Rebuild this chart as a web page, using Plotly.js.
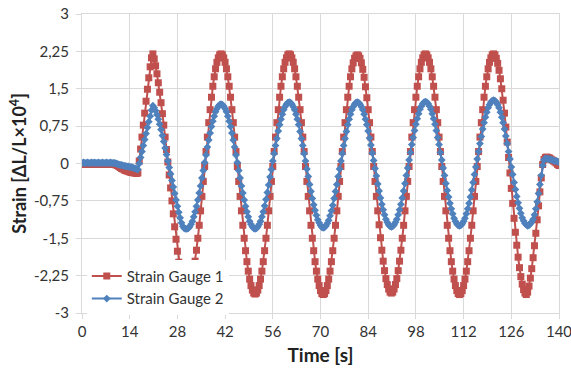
<!DOCTYPE html>
<html>
<head>
<meta charset="utf-8">
<script src="https://cdn.plot.ly/plotly-3.0.1.min.js"></script>
<style>
html,body{margin:0;padding:0;background:#fff;}
#chart{width:571px;height:372px;}
</style>
</head>
<body>
<div id="chart"></div>
<script>
// Sampling: one reading every 0.4 s starting at t = 0 s
const timeStart = 0;
const timeStep = 0.4;

// Strain Gauge 1 readings [ΔL/L×10^4]
const gauge1 = [
  -0.01,-0.02,-0.02,-0.01,-0.02,-0.02,-0.02,-0.01,-0.02,-0.02,-0.01,-0.02,-0.02,-0.02,-0.01,-0.02,-0.02,-0.01,-0.02,-0.02,-0.02,-0.01,-0.02,-0.02,
  -0.02,-0.03,-0.04,-0.06,-0.08,-0.10,-0.11,-0.13,-0.14,-0.15,-0.16,-0.17,-0.18,-0.18,-0.19,-0.19,-0.20,-0.19,
  0.05,0.29,0.53,0.77,1.01,1.25,1.49,1.72,1.94,2.12,2.20,
  2.10,1.96,1.80,1.62,1.43,1.22,1.00,0.77,0.53,0.28,0.03,-0.23,-0.49,-0.75,-1.01,-1.27,-1.52,-1.76,-1.98,-2.18,-2.35,-2.47,-2.55,-2.59,-2.60,
  -2.58,-2.52,-2.43,-2.31,-2.15,-1.96,-1.74,-1.50,-1.24,-0.95,-0.66,-0.36,-0.06,0.24,0.53,0.82,1.08,1.33,1.55,1.74,1.90,2.03,2.12,2.18,2.20,
  2.18,2.12,2.03,1.90,1.74,1.55,1.33,1.08,0.82,0.53,0.24,-0.06,-0.36,-0.66,-0.95,-1.24,-1.50,-1.75,-1.97,-2.16,-2.32,-2.45,-2.54,-2.60,-2.62,
  -2.60,-2.54,-2.45,-2.32,-2.16,-1.97,-1.75,-1.50,-1.24,-0.95,-0.66,-0.36,-0.06,0.24,0.53,0.82,1.08,1.33,1.55,1.74,1.90,2.03,2.12,2.18,2.20,
  2.18,2.12,2.03,1.90,1.74,1.55,1.33,1.08,0.82,0.53,0.24,-0.06,-0.36,-0.66,-0.95,-1.24,-1.50,-1.75,-1.97,-2.16,-2.32,-2.45,-2.55,-2.61,-2.63,
  -2.61,-2.55,-2.45,-2.32,-2.16,-1.97,-1.75,-1.50,-1.24,-0.95,-0.66,-0.36,-0.06,0.24,0.53,0.82,1.08,1.33,1.55,1.74,1.90,2.02,2.11,2.16,2.18,
  2.16,2.11,2.02,1.89,1.73,1.54,1.32,1.08,0.82,0.53,0.24,-0.06,-0.36,-0.66,-0.95,-1.23,-1.49,-1.74,-1.96,-2.15,-2.31,-2.43,-2.52,-2.58,-2.60,
  -2.58,-2.52,-2.43,-2.31,-2.15,-1.96,-1.74,-1.50,-1.24,-0.95,-0.66,-0.36,-0.06,0.24,0.53,0.82,1.08,1.33,1.55,1.74,1.90,2.03,2.12,2.18,2.20,
  2.18,2.12,2.03,1.90,1.74,1.55,1.33,1.08,0.82,0.53,0.24,-0.06,-0.36,-0.66,-0.95,-1.24,-1.50,-1.75,-1.97,-2.16,-2.32,-2.45,-2.55,-2.61,-2.63,
  -2.61,-2.55,-2.45,-2.32,-2.16,-1.97,-1.75,-1.50,-1.24,-0.95,-0.66,-0.36,-0.06,0.24,0.53,0.82,1.08,1.33,1.55,1.74,1.90,2.03,2.12,2.18,2.20,
  2.18,2.11,2.01,1.87,1.70,1.50,1.27,1.01,0.73,0.43,0.12,-0.19,-0.50,-0.80,-1.10,-1.38,-1.64,-1.88,-2.09,-2.27,-2.42,-2.53,-2.60,-2.63,
  -2.58,-2.46,-2.30,-2.11,-1.89,-1.65,-1.40,-1.13,-0.85,-0.57,-0.29,-0.02,0.08,0.12,0.13,0.12,0.11,0.09,0.07,0.05,0.03,0.01,-0.02,-0.04
];

// Strain Gauge 2 readings [ΔL/L×10^4]
const gauge2 = [
  0.01,0.02,0.01,0.01,0.02,0.01,0.01,0.02,0.01,0.02,0.01,0.01,0.02,0.01,0.01,0.02,0.01,0.01,0.02,0.01,0.01,0.02,0.01,0.01,
  0.01,0.00,-0.01,-0.02,-0.03,-0.03,-0.04,-0.05,-0.05,-0.06,-0.06,-0.07,-0.07,-0.08,-0.09,-0.10,-0.11,-0.12,
  0.00,0.12,0.24,0.36,0.48,0.60,0.72,0.84,0.95,1.07,1.16,
  1.12,1.06,0.98,0.89,0.79,0.68,0.56,0.44,0.31,0.18,0.05,-0.08,-0.21,-0.34,-0.47,-0.60,-0.73,-0.86,-0.98,-1.09,-1.19,-1.26,-1.30,-1.31,-1.31,
  -1.30,-1.27,-1.22,-1.16,-1.07,-0.97,-0.86,-0.73,-0.59,-0.45,-0.29,-0.14,0.02,0.17,0.33,0.47,0.61,0.74,0.85,0.95,1.04,1.10,1.15,1.18,1.19,
  1.18,1.15,1.10,1.04,0.95,0.85,0.74,0.61,0.47,0.33,0.17,0.02,-0.14,-0.29,-0.45,-0.59,-0.73,-0.86,-0.97,-1.07,-1.16,-1.22,-1.27,-1.30,-1.31,
  -1.30,-1.27,-1.22,-1.16,-1.07,-0.97,-0.85,-0.72,-0.58,-0.43,-0.27,-0.12,0.05,0.20,0.36,0.50,0.65,0.78,0.89,0.99,1.08,1.14,1.19,1.22,1.23,
  1.22,1.19,1.14,1.08,0.99,0.89,0.78,0.64,0.50,0.36,0.20,0.05,-0.11,-0.26,-0.42,-0.56,-0.70,-0.83,-0.94,-1.04,-1.13,-1.19,-1.24,-1.28,-1.29,
  -1.28,-1.25,-1.20,-1.14,-1.05,-0.95,-0.84,-0.70,-0.56,-0.42,-0.26,-0.11,0.05,0.20,0.36,0.50,0.64,0.78,0.89,0.99,1.08,1.14,1.19,1.22,1.23,
  1.22,1.19,1.14,1.08,0.99,0.89,0.78,0.65,0.51,0.37,0.21,0.06,-0.10,-0.25,-0.41,-0.55,-0.69,-0.82,-0.93,-1.03,-1.12,-1.18,-1.23,-1.26,-1.27,
  -1.26,-1.23,-1.18,-1.12,-1.03,-0.93,-0.82,-0.69,-0.55,-0.40,-0.24,-0.09,0.07,0.22,0.38,0.52,0.66,0.79,0.90,1.00,1.09,1.15,1.20,1.23,1.24,
  1.23,1.20,1.15,1.09,1.00,0.90,0.79,0.66,0.52,0.38,0.22,0.07,-0.09,-0.24,-0.40,-0.54,-0.67,-0.80,-0.91,-1.01,-1.10,-1.16,-1.21,-1.24,-1.25,
  -1.24,-1.21,-1.16,-1.10,-1.01,-0.91,-0.80,-0.67,-0.53,-0.38,-0.22,-0.07,0.09,0.24,0.40,0.54,0.69,0.82,0.93,1.03,1.12,1.18,1.23,1.26,1.27,
  1.26,1.23,1.18,1.12,1.03,0.93,0.82,0.69,0.55,0.40,0.24,0.09,-0.07,-0.22,-0.38,-0.52,-0.66,-0.79,-0.90,-1.00,-1.09,-1.15,-1.20,-1.23,-1.25,
  -1.24,-1.21,-1.17,-1.12,-1.03,-0.91,-0.77,-0.60,-0.42,-0.24,-0.04,0.07,0.10,0.10,0.09,0.09,0.08,0.07,0.06,0.05,0.05,0.04,0.03
];

const seriesNames = ['Strain Gauge 1', 'Strain Gauge 2'];
const xTickVals = [0, 14, 28, 42, 56, 70, 84, 98, 112, 126, 140];
const xTickText = ['0', '14', '28', '42', '56', '70', '84', '98', '112', '126', '140'];
const yTickVals = [-3, -2.25, -1.5, -0.75, 0, 0.75, 1.5, 2.25, 3];
const yTickText = ['-3', '-2,25', '-1,5', '-0,75', '0', '0,75', '1,5', '2,25', '3'];

const FONT = 'Lato, "Open Sans", sans-serif';
const GRID = '#d9d9d9';

const traces = [
  {
    name: seriesNames[0], y: gauge1, x0: timeStart, dx: timeStep,
    type: 'scatter', mode: 'lines+markers',
    line: {color: '#C0504D', width: 2},
    marker: {symbol: 'square', size: 7, color: '#C0504D'}
  },
  {
    name: seriesNames[1], y: gauge2, x0: timeStart, dx: timeStep,
    type: 'scatter', mode: 'lines+markers',
    line: {color: '#4F81BD', width: 2},
    marker: {symbol: 'diamond', size: 6, color: '#4F81BD'}
  }
];

const layout = {
  width: 571, height: 372,
  margin: {l: 82, r: 12, t: 14, b: 59},
  paper_bgcolor: '#fff', plot_bgcolor: '#fff',
  font: {family: FONT, color: '#333', size: 15},
  showlegend: true,
  legend: {
    x: 0.01, y: 0.178, xanchor: 'left', yanchor: 'top',
    bgcolor: '#fff', borderwidth: 0,
    font: {family: FONT, size: 15, color: '#333'},
    itemwidth: 30,
    tracegroupgap: 0
  },
  xaxis: {
    range: [0, 140],
    tickmode: 'array', tickvals: xTickVals, ticktext: xTickText,
    showgrid: true, gridcolor: GRID, gridwidth: 1,
    zeroline: false, showline: true, linecolor: GRID, linewidth: 1, mirror: true,
    ticks: 'outside', ticklen: 5, tickcolor: GRID,
    ticklabeloverflow: 'allow',
    tickfont: {family: FONT, size: 15, color: '#333'},
    title: {text: '<b>Time [s]</b>', font: {family: FONT, size: 19, color: '#222'}, standoff: 9}
  },
  yaxis: {
    range: [-3, 3],
    tickmode: 'array', tickvals: yTickVals, ticktext: yTickText,
    showgrid: true, gridcolor: GRID, gridwidth: 1,
    zeroline: false, showline: true, linecolor: GRID, linewidth: 1, mirror: true,
    ticks: 'outside', ticklen: 5, tickcolor: GRID,
    ticklabelstandoff: 4,
    tickfont: {family: FONT, size: 15, color: '#333'},
    title: {text: '<b>Strain [ΔL/L×10<sup>4</sup>]</b>', font: {family: FONT, size: 18, color: '#222'}, standoff: 2}
  }
};

Plotly.newPlot('chart', traces, layout, {displayModeBar: false, staticPlot: true});
</script>
</body>
</html>
